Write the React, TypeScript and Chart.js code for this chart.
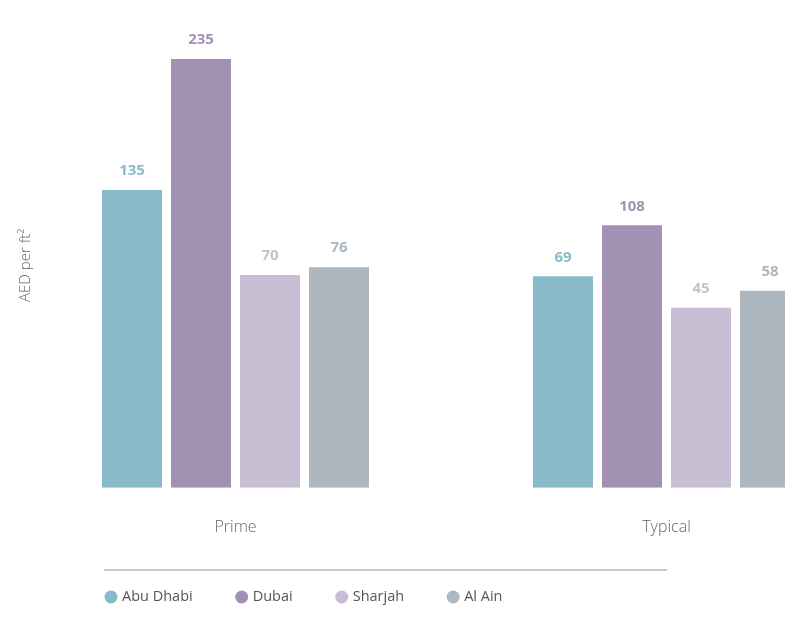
import React, { useEffect, useRef } from "react";
import { Chart, registerables } from "chart.js";

Chart.register(...registerables);

const categories = ["Prime", "Typical"];
const seriesNames = ["Abu Dhabi", "Dubai", "Sharjah", "Al Ain"];
const abuDhabi = [135, 69];
const dubai = [235, 108];
const sharjah = [70, 45];
const alAin = [76, 58];
const seriesColors = ["#87BBC7", "#A291B3", "#C8BED4", "#ADB7C0"];
const yTitle = "AED per ft²";
const yMin = -92.5;
const yMax = 235;

const FONT = "'Open Sans', 'Noto Sans', sans-serif";

const labelsPlugin = {
  id: "valueLabels",
  afterDatasetsDraw(chart: any) {
    const ctx = chart.ctx;
    ctx.save();
    ctx.font = `bold 15px ${FONT}`;
    ctx.textAlign = "center";
    ctx.textBaseline = "middle";
    chart.data.datasets.forEach((ds: any, i: number) => {
      const meta = chart.getDatasetMeta(i);
      ctx.fillStyle = ds.backgroundColor;
      meta.data.forEach((bar: any, j: number) => {
        ctx.fillText(String(ds.data[j]), bar.x, bar.y - 19);
      });
    });
    ctx.restore();
  },
};

const decorPlugin = {
  id: "decor",
  afterDraw(chart: any) {
    const ctx = chart.ctx;
    const area = chart.chartArea;
    ctx.save();
    // y-axis title
    ctx.translate(18, (area.top + area.bottom) / 2 - 8);
    ctx.rotate(-Math.PI / 2);
    ctx.font = `300 15px ${FONT}`;
    ctx.fillStyle = "#666666";
    ctx.textAlign = "center";
    ctx.textBaseline = "middle";
    ctx.fillText(yTitle, 0, 0);
    ctx.restore();

    // separator line
    ctx.save();
    ctx.strokeStyle = "#C9C9C9";
    ctx.lineWidth = 2;
    ctx.beginPath();
    ctx.moveTo(96, 562);
    ctx.lineTo(659, 562);
    ctx.stroke();

    // legend
    ctx.font = `14.5px ${FONT}`;
    ctx.textBaseline = "middle";
    ctx.textAlign = "left";
    let x = 96;
    const y = 589;
    chart.data.datasets.forEach((ds: any) => {
      ctx.fillStyle = ds.backgroundColor;
      ctx.beginPath();
      ctx.arc(x + 7, y, 6.5, 0, Math.PI * 2);
      ctx.fill();
      ctx.fillStyle = "#555555";
      ctx.fillText(ds.label, x + 18, y);
      x += 18 + ctx.measureText(ds.label).width + 42;
    });
    ctx.restore();
  },
};

export default function App() {
  const ref = useRef<HTMLCanvasElement>(null);
  useEffect(() => {
    document.documentElement.style.overflow = "hidden";
    document.body.style.marginRight = "0px";
    if (!ref.current) return;
    const series = [abuDhabi, dubai, sharjah, alAin];
    const chart = new Chart(ref.current, {
      type: "bar",
      data: {
        labels: categories,
        datasets: series.map((d, i) => ({
          label: seriesNames[i],
          data: d,
          backgroundColor: seriesColors[i],
          base: yMin,
          categoryPercentage: 0.6404,
          barPercentage: 0.8696,
        })) as any,
      },
      options: {
        animation: false,
        responsive: false,
        maintainAspectRatio: false,
        layout: { padding: { top: 51, left: 12, right: 6, bottom: 46 } },
        plugins: { legend: { display: false }, tooltip: { enabled: false } },
        scales: {
          x: {
            grid: { display: false, drawTicks: false },
            border: { display: false },
            ticks: {
              padding: 30,
              color: "#666666",
              font: { family: FONT, size: 16, lineHeight: 1.2, weight: "300" },
            },
          },
          y: {
            display: false,
            min: yMin,
            max: yMax,
          },
        },
      },
      plugins: [labelsPlugin, decorPlugin],
    });
    return () => chart.destroy();
  }, []);
  return (
    <div style={{ width: 777, height: 605, overflow: "hidden" }}>
      <canvas ref={ref} width={880} height={605} style={{ display: "block", width: 880, height: 605 }} />
    </div>
  );
}
